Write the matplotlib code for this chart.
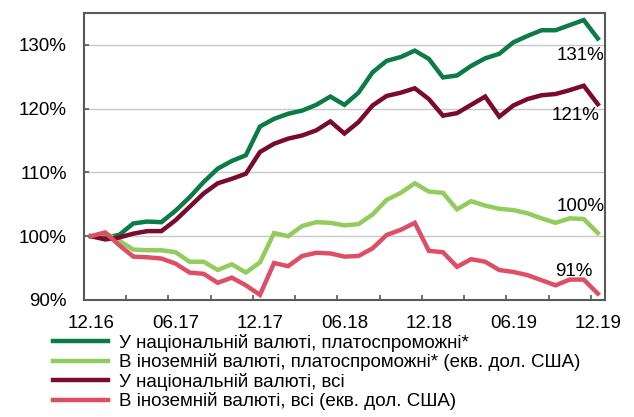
import numpy as np
import matplotlib.pyplot as plt

plt.rcParams['font.family'] = ['Liberation Sans', 'DejaVu Sans']

months = np.arange(37)
tick_labels = ['12.16', '06.17', '12.17', '06.18', '12.18', '06.19', '12.19']

nat_solvent = [100, 99.8, 100.2, 102.0, 102.3, 102.2, 104.0, 106.1, 108.5, 110.6,
               111.8, 112.7, 117.2, 118.4, 119.2, 119.7, 120.6, 121.9, 120.6, 122.5,
               125.7, 127.5, 128.1, 129.1, 127.8, 124.9, 125.2, 126.7, 127.9, 128.6,
               130.4, 131.4, 132.3, 132.3, 133.1, 133.9, 131.0]
for_solvent = [100, 100.5, 99.3, 97.9, 97.8, 97.8, 97.5, 96.0, 96.0, 94.7,
               95.6, 94.3, 95.9, 100.5, 100.0, 101.6, 102.2, 102.1, 101.7, 101.9,
               103.4, 105.7, 106.8, 108.3, 107.0, 106.8, 104.2, 105.5, 104.8, 104.3,
               104.1, 103.6, 102.8, 102.1, 102.8, 102.7, 100.5]
nat_all = [100, 99.5, 99.8, 100.4, 100.8, 100.8, 102.5, 104.6, 106.7, 108.3,
           109.0, 109.8, 113.2, 114.5, 115.3, 115.8, 116.6, 118.0, 116.1, 117.9,
           120.5, 122.0, 122.5, 123.2, 121.5, 118.9, 119.3, 120.6, 121.9, 118.75,
           120.5, 121.5, 122.1, 122.3, 122.9, 123.6, 120.7]
for_all = [100, 100.6, 98.6, 96.8, 96.7, 96.5, 95.7, 94.3, 94.1, 92.7,
           93.5, 92.3, 90.8, 95.8, 95.3, 96.9, 97.4, 97.3, 96.8, 96.9,
           98.1, 100.2, 101.0, 102.1, 97.7, 97.5, 95.2, 96.4, 96.0, 94.7,
           94.4, 93.9, 93.1, 92.3, 93.2, 93.2, 91.0]

names = ['У національній валюті, платоспроможні*',
         'В іноземній валюті, платоспроможні* (екв. дол. США)',
         'У національній валюті, всі',
         'В іноземній валюті, всі (екв. дол. США)']
colors = ['#0b7c45', '#92cc5c', '#7a0a30', '#de4f66']
end_labels = ['131%', '100%', '121%', '91%']

fs = 13.5
fig = plt.figure(figsize=(6.34, 4.17), dpi=100)
ax = fig.add_axes([0.1325, 0.2806, 0.8215, 0.6882])

series = [nat_solvent, for_solvent, nat_all, for_all]
for s, c, n in zip(series, colors, names):
    ax.plot(months, s, color=c, lw=3.2, label=n, solid_joinstyle='miter')

# end labels
ax.text(36.45, 128.4, end_labels[0], ha='right', va='center', fontsize=fs)
ax.text(36.1, 118.9, end_labels[2], ha='right', va='center', fontsize=fs)
ax.text(36.45, 104.6, end_labels[1], ha='right', va='center', fontsize=fs)
ax.text(35.6, 94.4, end_labels[3], ha='right', va='center', fontsize=fs)

ax.set_xlim(-0.5, 36.5)
ax.set_ylim(90, 135)
ax.set_yticks([90, 100, 110, 120, 130])
ax.set_yticklabels(['90%', '100%', '110%', '120%', '130%'])
ax.set_xticks(np.arange(0, 37, 6))
ax.set_xticklabels(tick_labels)
ax.set_xticks(np.arange(-0.5, 37, 3), minor=True)
ax.tick_params(axis='x', which='major', length=0, pad=10.5, labelsize=fs)
ax.tick_params(axis='x', which='minor', length=3.5, width=1.2, color='#595959', direction='in')
ax.tick_params(axis='y', length=3.5, width=1.2, color='#595959', direction='in',
               pad=12.5, labelsize=fs)
ax.grid(axis='y', color='#c8c8c8', lw=1)
ax.set_axisbelow(True)
for sp in ax.spines.values():
    sp.set_color('#595959')
    sp.set_linewidth(1.5)

fig.legend(loc='upper left', bbox_to_anchor=(0.0836, 0.2), frameon=False,
           fontsize=fs, handlelength=2.93, handletextpad=0.59,
           labelspacing=0.08, borderaxespad=0, borderpad=0)

fig.savefig('out.png', dpi=100)
